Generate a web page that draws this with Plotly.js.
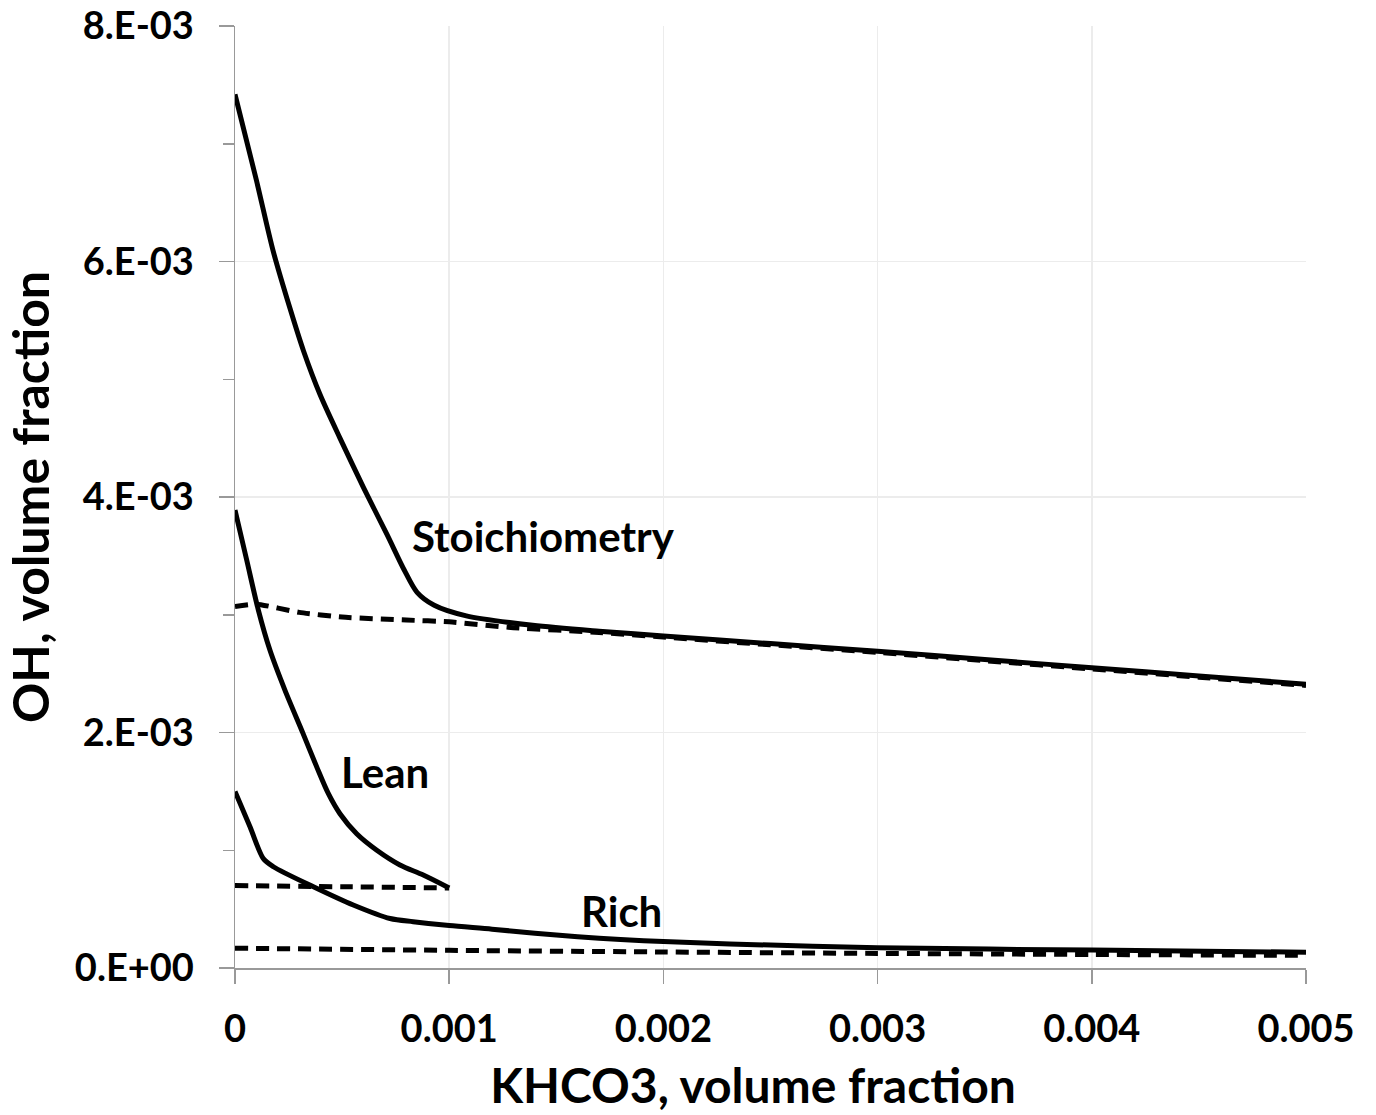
<!DOCTYPE html>
<html>
<head>
<meta charset="utf-8">
<script src="https://cdn.plot.ly/plotly-3.0.1.min.js"></script>
<style>html,body{margin:0;padding:0;background:#fff;}#chart{width:1376px;height:1115px;}</style>
</head>
<body>
<div id="chart"></div>
<script>
// KHCO3 volume fraction (x) and OH volume fraction (y)
var stoichSolidX = [0, 0.0001, 0.000178, 0.000257, 0.00032, 0.000397, 0.00049, 0.0006, 0.00071, 0.00079, 0.00085, 0.00093, 0.00108, 0.00139, 0.0017, 0.002, 0.0025, 0.003, 0.0035, 0.004, 0.0045, 0.005];
var stoichSolidY = [7.42e-3, 6.69e-3, 6.09e-3, 5.60e-3, 5.24e-3, 4.87e-3, 4.50e-3, 4.08e-3, 3.68e-3, 3.38e-3, 3.19e-3, 3.08e-3, 2.99e-3, 2.91e-3, 2.86e-3, 2.82e-3, 2.755e-3, 2.69e-3, 2.62e-3, 2.55e-3, 2.48e-3, 2.41e-3];
var stoichDashX = [0, 0.0001, 0.0003, 0.0005, 0.0008, 0.001, 0.0013, 0.0017, 0.002, 0.0025, 0.003, 0.0035, 0.004, 0.0045, 0.005];
var stoichDashY = [3.07e-3, 3.09e-3, 3.02e-3, 2.98e-3, 2.955e-3, 2.94e-3, 2.89e-3, 2.85e-3, 2.81e-3, 2.745e-3, 2.68e-3, 2.61e-3, 2.54e-3, 2.47e-3, 2.40e-3];

var leanSolidX = [0, 0.0000546, 0.000109, 0.000163, 0.000233, 0.000317, 0.000381, 0.000436, 0.00049, 0.000568, 0.000662, 0.00077, 0.000879, 0.001];
var leanSolidY = [3.89e-3, 3.465e-3, 3.04e-3, 2.70e-3, 2.36e-3, 1.995e-3, 1.71e-3, 1.48e-3, 1.31e-3, 1.14e-3, 1.00e-3, 0.875e-3, 0.79e-3, 0.68e-3];
var leanDashX = [0, 0.0005, 0.001];
var leanDashY = [0.70e-3, 0.69e-3, 0.68e-3];

var richSolidX = [0, 0.00007, 0.000132, 0.000179, 0.000366, 0.000552, 0.000724, 0.000832, 0.001, 0.0012, 0.0014, 0.0016, 0.0018, 0.002, 0.00231, 0.003, 0.004, 0.005];
var richSolidY = [1.50e-3, 1.20e-3, 0.93e-3, 0.86e-3, 0.69e-3, 0.535e-3, 0.42e-3, 0.393e-3, 0.36e-3, 0.33e-3, 0.295e-3, 0.265e-3, 0.242e-3, 0.225e-3, 0.204e-3, 0.172e-3, 0.152e-3, 0.134e-3];
var richDashX = [0, 0.001, 0.002, 0.003, 0.004, 0.005];
var richDashY = [0.168e-3, 0.15e-3, 0.136e-3, 0.124e-3, 0.115e-3, 0.107e-3];

var xTickVals = [0, 0.001, 0.002, 0.003, 0.004, 0.005];
var xTickText = ["0", "0.001", "0.002", "0.003", "0.004", "0.005"];
var yTickVals = [0, 0.002, 0.004, 0.006, 0.008];
var yTickText = ["0.E+00", "2.E-03", "4.E-03", "6.E-03", "8.E-03"];

var labels = ["Stoichiometry", "Lean", "Rich"];
var labelX = [0.000819, 0.000486, 0.001605];
var labelY = [3.67e-3, 1.668e-3, 0.48e-3];

var FONT = "Lato, 'Open Sans', sans-serif";
function solid(x, y) { return {x: x, y: y, mode: 'lines', line: {color: '#000', width: 5, shape: 'spline', smoothing: 0.8}, hoverinfo: 'skip'}; }
function dashed(x, y) { return {x: x, y: y, mode: 'lines', line: {color: '#000', width: 5, dash: '13px,8px', shape: 'spline', smoothing: 0.5}, hoverinfo: 'skip'}; }

var data = [
  solid(stoichSolidX, stoichSolidY), dashed(stoichDashX, stoichDashY),
  solid(leanSolidX, leanSolidY), dashed(leanDashX, leanDashY),
  solid(richSolidX, richSolidY), dashed(richDashX, richDashY)
];

var annotations = labels.map(function (t, i) {
  return {text: '<b>' + t + '</b>', x: labelX[i], y: labelY[i], xref: 'x', yref: 'y', xanchor: 'left', yanchor: 'middle', showarrow: false, font: {family: FONT, size: 42, color: '#000'}};
});

var layout = {
  width: 1376, height: 1115,
  margin: {l: 235, r: 70, t: 26, b: 147},
  paper_bgcolor: '#fff', plot_bgcolor: '#fff',
  showlegend: false,
  font: {family: FONT, color: '#000'},
  xaxis: {
    range: [0, 0.005], tickvals: xTickVals, ticktext: xTickText,
    ticks: 'outside', ticklen: 14, tickwidth: 1.5, tickcolor: '#999',
    showline: true, linecolor: '#999', linewidth: 1.5,
    showgrid: true, gridcolor: '#ececec', gridwidth: 1.5, zeroline: false,
    tickfont: {family: FONT, size: 38, color: '#000', weight: 700},
    ticklabelstandoff: 13,
    title: {text: '<b>KHCO3, volume fraction\u00a0\u00a0\u00a0</b>', font: {family: FONT, size: 48, color: '#000'}, standoff: 20},
    automargin: false, fixedrange: true
  },
  yaxis: {
    range: [0, 0.008], tickvals: yTickVals, ticktext: yTickText,
    ticks: 'outside', ticklen: 15, tickwidth: 1.5, tickcolor: '#999',
    minor: {dtick: 0.001, tick0: 0, ticks: 'outside', ticklen: 11, tickwidth: 1.5, tickcolor: '#999', showgrid: false},
    showline: true, linecolor: '#999', linewidth: 1.5,
    showgrid: true, gridcolor: '#ececec', gridwidth: 1.5, zeroline: false,
    tickfont: {family: FONT, size: 38, color: '#000', weight: 700},
    ticklabelstandoff: 17,
    title: {text: '<b>OH, volume fraction</b>', font: {family: FONT, size: 50, color: '#000'}, standoff: 12},
    automargin: false, fixedrange: true
  },
  annotations: annotations
};

Plotly.newPlot('chart', data, layout, {staticPlot: true, displayModeBar: false});
</script>
</body>
</html>
